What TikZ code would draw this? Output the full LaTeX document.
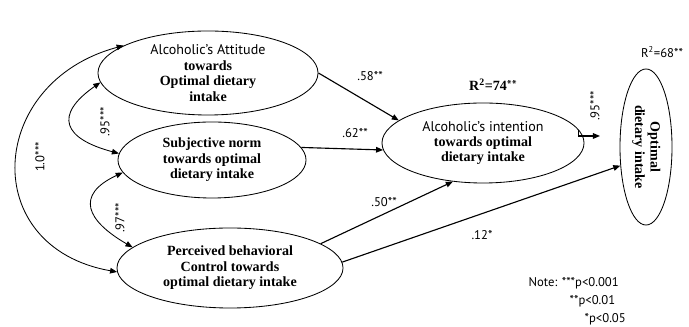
\documentclass[tikz,border=0pt]{standalone}
\usepackage{fontspec}
\usepackage{graphicx}
\setmainfont{Liberation Serif}
\newfontfamily\labelfont{PT Sans}
\usetikzlibrary{arrows.meta,shapes.geometric}

\tikzset{
  construct/.style={draw, ellipse, inner sep=0pt, align=center, line width=0.6pt,
    font=\fontsize{10}{11}\selectfont},
  arr/.style={-{Triangle[length=5pt,width=4pt]}, line width=0.8pt},
  cov/.style={{Triangle[length=5pt,width=4pt]}-{Triangle[length=5pt,width=4pt]}, line width=0.6pt},
  coef/.style={font=\labelfont\fontsize{9}{10.5}\selectfont, inner sep=1pt},
}

\begin{document}
\begin{tikzpicture}[x=0.025cm, y=0.025cm]

    \useasboundingbox (0,0) rectangle (689,327);

    % Construtos
    \node[construct, minimum width=5.5cm, minimum height=2.1cm] (att) at (208,254)
        {{\labelfont Alcoholic’s Attitude}\\\textbf{towards}\\\textbf{Optimal dietary}\\\textbf{intake}};
    \node[construct, minimum width=4.7cm, minimum height=1.9cm] (subj) at (212,167)
        {\textbf{Subjective norm}\\\textbf{towards optimal}\\\textbf{dietary intake}};
    \node[construct, minimum width=5.65cm, minimum height=2.0cm] (perc) at (230,59)
        {\textbf{Perceived behavioral}\\\textbf{Control towards}\\\textbf{optimal dietary intake}};
    \node[construct, minimum width=5.05cm, minimum height=2.0cm] (intent) at (483,184)
        {{\labelfont Alcoholic’s intention}\\\textbf{towards optimal}\\\textbf{dietary intake}};
    \node[construct, minimum width=1.3cm, minimum height=3.9cm] (opt) at (646,180)
        {\rotatebox{-90}{\begin{tabular}{@{}c@{}}\textbf{Optimal}\\\textbf{dietary intake}\end{tabular}}};

    \coordinate (io) at (600,191);

    % Caminhos
    \draw[arr] (att.east) -- (intent.165);
    \draw[arr] (subj.8) -- (intent.184);
    \draw[arr] (perc.15) -- (intent.232);
    \draw[arr] (perc.3) -- (opt.216);
    \draw[arr] (intent.8) |- (io);

    % Covariancias
    \draw[cov] (att.185) to[out=215, in=165, looseness=2.0] (subj.176);
    \draw[cov] (subj.188) to[out=205, in=150, looseness=1.8] (perc.168);
    \draw[cov] (att.162) to[out=195, in=170, looseness=1.6] (perc.182);

    % Coeficientes
    \node[coef] (c58) at (370,251) {.58**};
    \node[coef] (c62) at (355,194) {.62**};
    \node[coef] (c50) at (384,125) {.50**};
    \node[coef] (c12) at (482,92) {.12*};
    \node[coef, rotate=90] (c95o) at (595,221) {.95***};
    \node[coef, rotate=90] (c95) at (105,205) {.95***};
    \node[coef, rotate=90] (c97) at (120,109) {.97***};
    \node[coef, rotate=90] (c10) at (40,170) {1.0***};

    \node[font=\fontsize{10}{11}\selectfont] (r74) at (493,242) {\textbf{R\textsuperscript{2}=74}{\labelfont**}};
    \node[coef] (r68) at (662,275) {R\textsuperscript{2}=68**};

    % Nota
    \node[coef, anchor=west] (note1) at (527,44) {Note: ***p<0.001};
    \node[coef, anchor=west] (note2) at (568,26) {**p<0.01};
    \node[coef, anchor=west] (note3) at (583,8) {*p<0.05};

\end{tikzpicture}
\end{document}
